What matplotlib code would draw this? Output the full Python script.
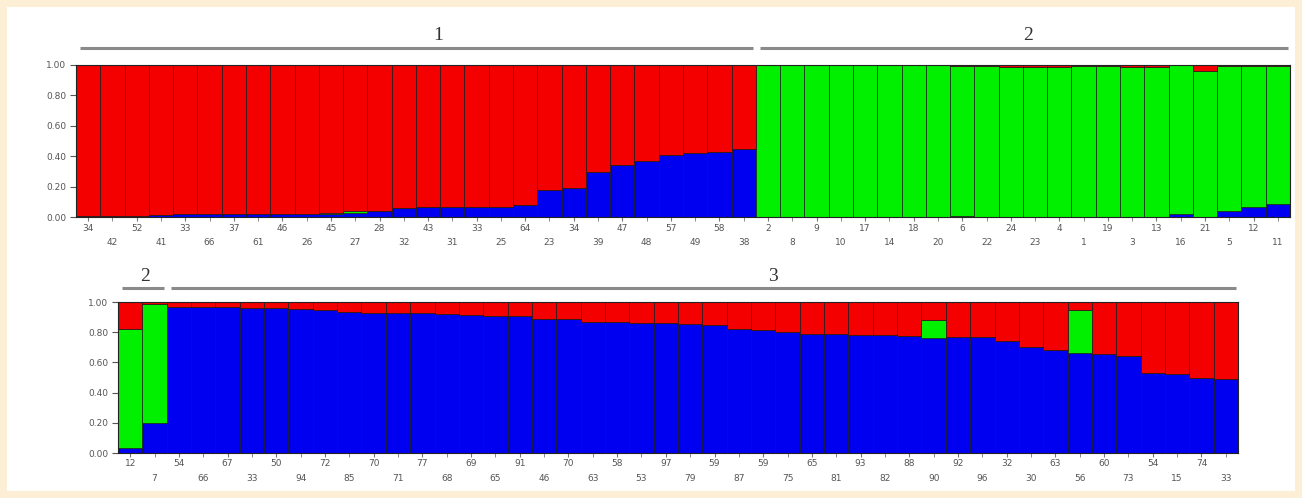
import matplotlib
matplotlib.use("Agg")
import matplotlib.pyplot as plt
import numpy as np
from matplotlib.patches import Rectangle

# Панель 1: кластери 1 і 2
top_labels = ["34", "42", "52", "41", "33", "66", "37", "61", "46", "26", "45", "27", "28", "32",
              "43", "31", "33", "25", "64", "23", "34", "39", "47", "48", "57", "49", "58", "38",
              "2", "8", "9", "10", "17", "14", "18", "20", "6", "22", "24", "23", "4", "1",
              "19", "3", "13", "16", "21", "5", "12", "11"]
top_blue = [0.01, 0.01, 0.01, 0.015, 0.02, 0.02, 0.02, 0.02, 0.02, 0.02, 0.02, 0.03, 0.04, 0.06,
            0.07, 0.07, 0.07, 0.07, 0.08, 0.18, 0.19, 0.30, 0.34, 0.37, 0.41, 0.42, 0.43, 0.45,
            0.0, 0.0, 0.0, 0.0, 0.0, 0.0, 0.0, 0.0, 0.01, 0.005, 0.0, 0.0, 0.0, 0.0,
            0.0, 0.0, 0.005, 0.02, 0.0, 0.045, 0.07, 0.085]
top_green = [0.0, 0.0, 0.0, 0.0, 0.0, 0.0, 0.0, 0.0, 0.0, 0.005, 0.01, 0.01, 0.0, 0.0,
             0.0, 0.0, 0.0, 0.0, 0.0, 0.0, 0.0, 0.0, 0.0, 0.0, 0.0, 0.0, 0.0, 0.0,
             0.995, 0.995, 0.995, 0.995, 0.995, 0.995, 0.995, 0.995, 0.98, 0.985, 0.985, 0.985, 0.985, 0.99,
             0.99, 0.985, 0.98, 0.98, 0.955, 0.945, 0.92, 0.905]
top_groups = ["1", "2"]
top_group_size = [28, 22]
top_group_label_x = [14.4, 38.7]

# Панель 2: кластери 2 і 3
bot_labels = ["12", "7", "54", "66", "67", "33", "50", "94", "72", "85", "70", "71", "77", "68",
              "69", "65", "91", "46", "70", "63", "58", "53", "97", "79", "59", "87", "59", "75",
              "65", "81", "93", "82", "88", "90", "92", "96", "32", "30", "63", "56", "60", "73",
              "54", "15", "74", "33"]
bot_blue = [0.03, 0.20, 0.97, 0.97, 0.965, 0.96, 0.96, 0.955, 0.95, 0.935, 0.93, 0.93, 0.925, 0.92,
            0.915, 0.91, 0.905, 0.89, 0.885, 0.87, 0.865, 0.86, 0.86, 0.855, 0.85, 0.82, 0.815, 0.80,
            0.79, 0.785, 0.78, 0.78, 0.775, 0.76, 0.765, 0.77, 0.74, 0.70, 0.68, 0.66, 0.655, 0.645,
            0.53, 0.525, 0.50, 0.49]
bot_green = [0.79, 0.79] + [0.0] * 31 + [0.12] + [0.0] * 5 + [0.29] + [0.0] * 6
bot_groups = ["2", "3"]
bot_group_size = [2, 44]
bot_group_label_x = [0.6, 26.4]

RED, GREEN, BLUE = "#f50000", "#00f000", "#0000f0"

fig = plt.figure(figsize=(13.02, 4.98), dpi=100, facecolor="#fdefd6")
fig.patches.append(Rectangle((7 / 1302, 7 / 498), 1 - 14 / 1302, 1 - 14 / 498,
                             transform=fig.transFigure, facecolor="white", edgecolor="none", zorder=-1))


def structure_panel(rect, labels, blue, green, groups, sizes, label_x, line_y, text_y):
    ax = fig.add_axes(rect)
    x = np.arange(len(labels))
    blue = np.array(blue)
    green = np.array(green)
    red = 1 - blue - green
    kw = dict(width=1.0, edgecolor="#1a1a1a", linewidth=0.5)
    ax.bar(x, blue, color=BLUE, **kw)
    ax.bar(x, green, bottom=blue, color=GREEN, **kw)
    ax.bar(x, red, bottom=blue + green, color=RED, **kw)
    ax.set_xlim(-0.5, len(labels) - 0.5)
    ax.set_ylim(0, 1)
    ax.set_yticks([0, 0.2, 0.4, 0.6, 0.8, 1.0],
                  labels=["0.00", "0.20", "0.40", "0.60", "0.80", "1.00"])
    ax.set_xticks(x[::2], labels=labels[::2])
    ax.set_xticks(x[1::2], labels=labels[1::2], minor=True)
    ax.tick_params(axis="x", which="major", length=3, pad=1.5, labelsize=6.5,
                   labelcolor="#555555", color="#777777")
    ax.tick_params(axis="x", which="minor", length=3, pad=12, labelsize=6.5,
                   labelcolor="#555555", color="#777777")
    ax.tick_params(axis="y", length=4, pad=3, labelsize=6.5, labelcolor="#555555", color="#555555")
    for s in ax.spines.values():
        s.set_color("#222222")
        s.set_linewidth(0.8)

    # лінії кластерів над графіком
    start = -0.5
    for g, n, lx in zip(groups, sizes, label_x):
        ax.plot([start + 0.17, start + n - 0.1], [line_y, line_y], color="#8a8a8a", lw=2.2,
                transform=ax.get_xaxis_transform(), clip_on=False, solid_capstyle="butt")
        ax.text(lx, text_y, g, transform=ax.get_xaxis_transform(), ha="center", va="center",
                fontsize=14, family="Liberation Serif", color="#333333")
        start += n
    return ax


structure_panel([76 / 1302, 1 - 217.5 / 498, 1214 / 1302, 153 / 498],
                top_labels, top_blue, top_green, top_groups, top_group_size, top_group_label_x,
                1.11, 1.19)
structure_panel([118 / 1302, 1 - 453 / 498, 1120 / 1302, 151 / 498],
                bot_labels, bot_blue, bot_green, bot_groups, bot_group_size, bot_group_label_x,
                1.093, 1.17)

fig.savefig("out.png", dpi=100, facecolor=fig.get_facecolor())
